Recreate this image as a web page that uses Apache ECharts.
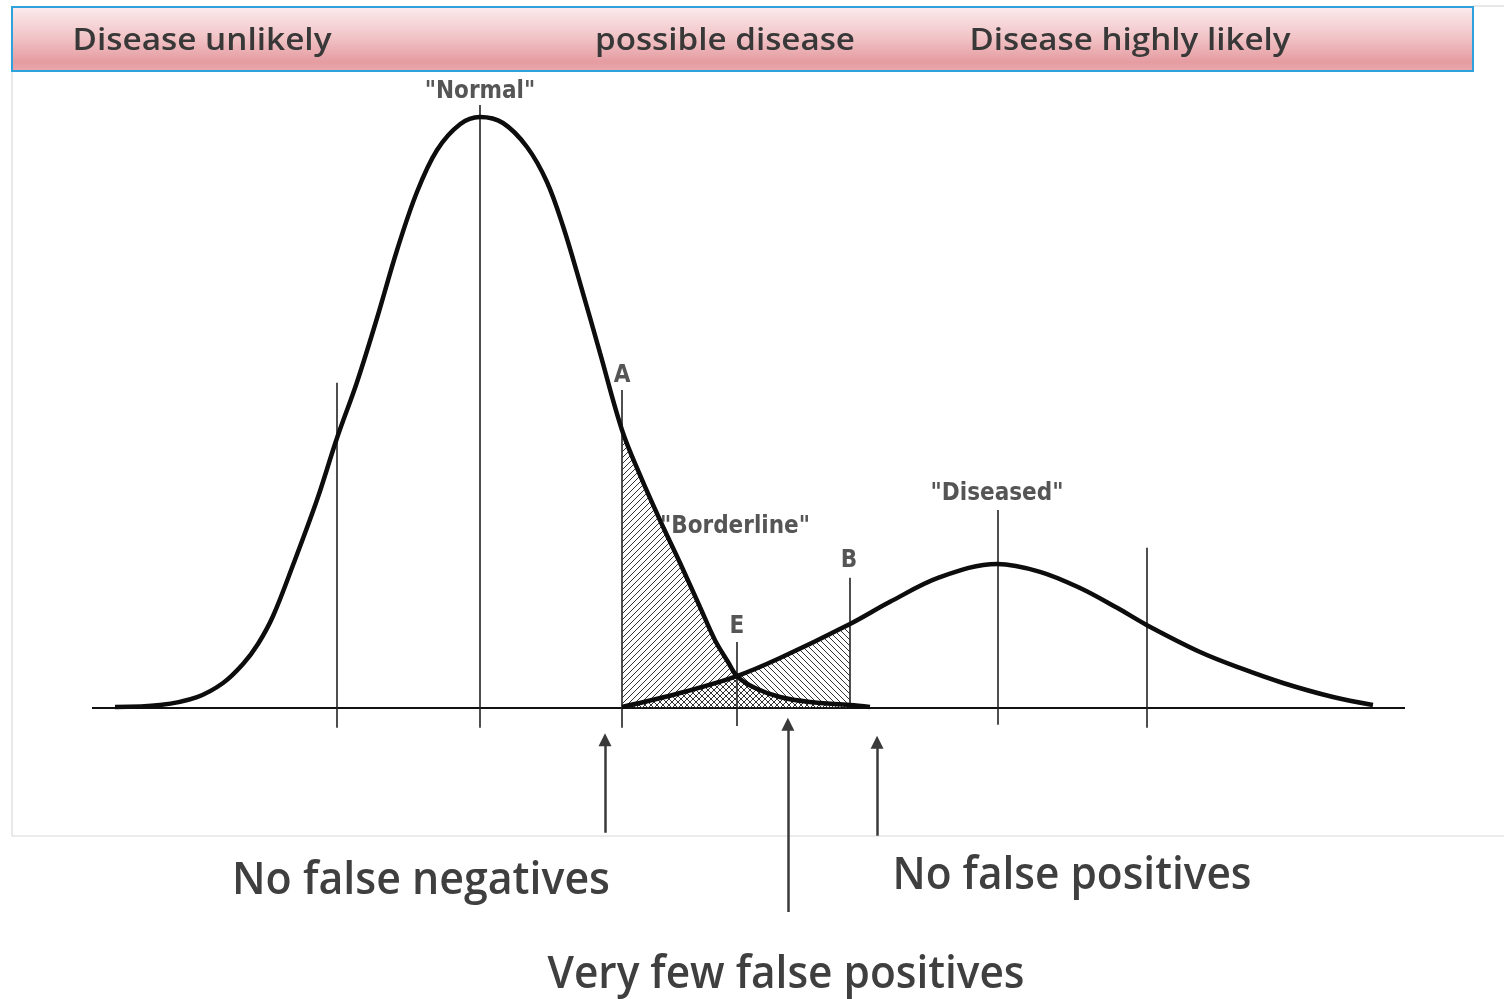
<!DOCTYPE html>
<html>
<head>
<meta charset="utf-8">
<title>Normal vs diseased</title>
<script src="https://cdn.jsdelivr.net/npm/echarts@6/dist/echarts.min.js"></script>
<style>
  html, body { margin: 0; padding: 0; background: #fff; }
  #chart { width: 1504px; height: 999px; }
</style>
</head>
<body>
<div id="chart"></div>
<script>
// test value (0-100) and relative frequency (0-100)
var normalX = [1.75, 5.18, 8.0, 9.98, 11.5, 12.64, 13.79, 15.31, 17.14, 18.66, 20.18, 21.71, 23.23, 24.75, 26.28, 28.03, 29.55,
  31.3, 33.13, 34.65, 35.87, 37.17, 38.69, 40.37, 41.74, 43.26, 44.78, 46.31, 47.45, 48.44, 49.12, 50.5, 52.4, 54.68, 57.73, 59.25];
var normalY = [0.17, 0.5, 1.83, 4.17, 7.33, 10.67, 15.33, 23.83, 34.7, 45.0, 54.3, 65.0, 76.3, 86.0, 93.0, 97.3, 98.5,
  97.5, 93.5, 87.67, 80.33, 70.83, 59.17, 46.3, 38.8, 31.3, 24.2, 16.8, 11.3, 7.67, 5.33, 3.33, 1.83, 1.0, 0.5, 0.17];

var diseasedX = [40.37, 44.78, 49.12, 52.4, 57.73, 60.78, 64.58, 68.93, 72.2, 75.25, 78.07, 80.35, 84.39, 87.43, 90.71, 94.52, 97.56];
var diseasedY = [0.17, 2.5, 5.33, 8.33, 14.0, 17.7, 21.8, 24.0, 22.7, 20.0, 16.7, 13.8, 9.33, 6.67, 4.17, 1.83, 0.5];

// cut-offs A and B (hatched between them)
var cutA = 40.37, cutB = 57.73;

// vertical reference lines
var guideX = [18.66, 29.55, 40.37, 49.12, 57.73, 68.99, 80.35];
var guideTop = [54.2, 100.5, 53.0, 11.0, 21.7, 33.0, 26.7];
var guideBottom = [-3.3, -3.3, -3.3, -3.0, 0, -2.8, -3.3];

var labelNames = ['"Normal"', 'A', '"Borderline"', 'E', 'B', '"Diseased"'];
var labelX = [29.55, 40.37, 48.97, 49.12, 57.65, 68.93];
var labelY = [102.7, 55.3, 30.2, 13.5, 24.5, 35.7];

var arrowX = [39.07, 53.0, 59.79];
var arrowFrom = [-20.8, -34.0, -21.3];
var arrowTo = [-5.3, -2.7, -5.7];

var headerLabels = ['Disease unlikely', 'possible disease', 'Disease highly likely'];
var bottomLabels = ['No false negatives', 'No false positives', 'Very few false positives'];

function pairs(xs, ys) {
  return xs.map(function (x, i) { return [x, ys[i]]; });
}
function between(xs, ys, lo, hi) {
  return pairs(xs, ys).filter(function (p) { return p[0] >= lo && p[0] <= hi; });
}

function hatch(dir) {
  var c = document.createElement('canvas');
  c.width = 6; c.height = 6;
  var g = c.getContext('2d');
  g.strokeStyle = '#333';
  g.lineWidth = 1;
  g.beginPath();
  if (dir > 0) {
    g.moveTo(-1, 7); g.lineTo(7, -1);
    g.moveTo(-1, 1); g.lineTo(1, -1);
    g.moveTo(5, 7); g.lineTo(7, 5);
  } else {
    g.moveTo(-1, -1); g.lineTo(7, 7);
    g.moveTo(5, -1); g.lineTo(7, 1);
    g.moveTo(-1, 5); g.lineTo(1, 7);
  }
  g.stroke();
  return c;
}

var measure = document.createElement('canvas').getContext('2d');
function fit(text, font, width) {
  measure.font = font;
  return width / measure.measureText(text).width;
}

var headFont = '600 30px "Open Sans", sans-serif';
var bottomFont = '600 46px "Open Sans", sans-serif';
var headPos = [[202, 41, 259], [725, 41, 260], [1130, 41, 321]];
var bottomPos = [[421, 881, 378], [1072, 876, 359], [786, 975, 477]];

function textEl(text, p, font, color) {
  return {
    type: 'text', x: p[0], y: p[1], scaleX: fit(text, font, p[2]), z: 10,
    style: { text: text, font: font, fill: color, align: 'center', verticalAlign: 'middle',
      textAlign: 'center', textVerticalAlign: 'middle' }
  };
}

var graphics = [
  { type: 'line', shape: { x1: 12, y1: 71, x2: 12, y2: 836 }, style: { stroke: '#d0d0d0', lineWidth: 1 } },
  { type: 'line', shape: { x1: 12, y1: 836, x2: 1504, y2: 836 }, style: { stroke: '#d8d8d8', lineWidth: 1 } },
  { type: 'line', shape: { x1: 1473, y1: 6, x2: 1504, y2: 6 }, style: { stroke: '#d0d0d0', lineWidth: 1 } },
  {
    type: 'rect', shape: { x: 12, y: 7, width: 1461, height: 64 }, z: 5,
    style: {
      stroke: '#2ea2da', lineWidth: 2,
      fill: new echarts.graphic.LinearGradient(0, 0, 0, 1, [
        { offset: 0, color: '#fbecee' },
        { offset: 0.45, color: '#f2c6c9' },
        { offset: 0.85, color: '#e59ca1' },
        { offset: 1, color: '#eaa9ad' }
      ])
    }
  }
];
headerLabels.forEach(function (t, i) { graphics.push(textEl(t, headPos[i], headFont, '#383838')); });
bottomLabels.forEach(function (t, i) { graphics.push(textEl(t, bottomPos[i], bottomFont, '#3f3f3f')); });

var chart = echarts.init(document.getElementById('chart'));
chart.setOption({
  animation: false,
  backgroundColor: '#fff',
  grid: { left: 92, width: 1313, top: 84, height: 834 },
  xAxis: { type: 'value', min: 0, max: 100, show: false },
  yAxis: { type: 'value', min: -35, max: 104, show: false },
  graphic: graphics,
  series: [
    {
      type: 'line', data: between(normalX, normalY, cutA, cutB), smooth: 0.35, symbol: 'none',
      lineStyle: { width: 0, opacity: 0 },
      areaStyle: { color: { image: hatch(1), repeat: 'repeat' }, opacity: 1 }
    },
    {
      type: 'line', data: between(diseasedX, diseasedY, cutA, cutB), smooth: 0.35, symbol: 'none',
      lineStyle: { width: 0, opacity: 0 },
      areaStyle: { color: { image: hatch(-1), repeat: 'repeat' }, opacity: 1 }
    },
    {
      type: 'lines', coordinateSystem: 'cartesian2d', symbol: 'none',
      lineStyle: { color: '#111', width: 2, opacity: 1 },
      data: [{ coords: [[0, 0], [100, 0]] }]
    },
    {
      type: 'lines', coordinateSystem: 'cartesian2d', symbol: 'none',
      lineStyle: { color: '#222', width: 1.6, opacity: 1 },
      data: guideX.map(function (x, i) { return { coords: [[x, guideBottom[i]], [x, guideTop[i]]] }; })
    },
    {
      type: 'line', data: pairs(normalX, normalY), smooth: 0.35, symbol: 'none',
      lineStyle: { color: '#0d0d0d', width: 4.5 }, z: 4
    },
    {
      type: 'line', data: pairs(diseasedX, diseasedY), smooth: 0.35, symbol: 'none',
      lineStyle: { color: '#0d0d0d', width: 4.5 }, z: 4
    },
    {
      type: 'lines', coordinateSystem: 'cartesian2d', symbol: ['none', 'triangle'], symbolSize: [0, 13],
      lineStyle: { color: '#3a3a3a', width: 2.5, opacity: 1 },
      data: arrowX.map(function (x, i) { return { coords: [[x, arrowFrom[i]], [x, arrowTo[i]]] }; })
    },
    {
      type: 'scatter', symbolSize: 0, clip: false, z: 6,
      data: labelNames.map(function (n, i) { return { name: n, value: [labelX[i], labelY[i]] }; }),
      label: {
        show: true, position: 'inside', formatter: '{b}',
        fontFamily: '"DejaVu Sans Condensed", "Liberation Sans Narrow", sans-serif',
        fontWeight: 'bold', fontSize: 24, color: '#2b2b2b'
      }
    }
  ]
});
</script>
</body>
</html>
